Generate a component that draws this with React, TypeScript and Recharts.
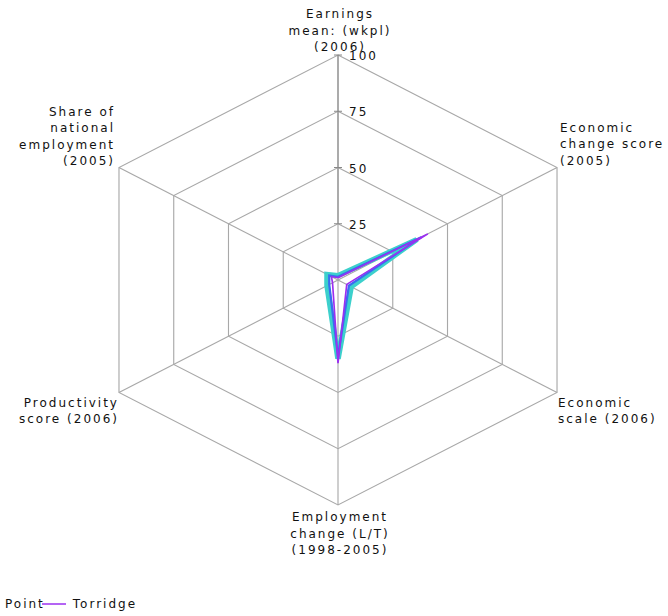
import React from 'react';
import { RadarChart, Radar, PolarGrid, PolarAngleAxis, PolarRadiusAxis, Legend } from 'recharts';

const categories = [
  'Earnings mean: (wkpl) (2006)',
  'Economic change score (2005)',
  'Economic scale (2006)',
  'Employment change (L/T) (1998-2005)',
  'Productivity score (2006)',
  'Share of national employment (2005)',
];
const categoryLines = [
  ['Earnings', 'mean: (wkpl)', '(2006)'],
  ['Economic', 'change score', '(2005)'],
  ['Economic', 'scale (2006)'],
  ['Employment', 'change (L/T)', '(1998-2005)'],
  ['Productivity', 'score (2006)'],
  ['Share of', 'national', 'employment', '(2005)'],
];
const tealValues = [2, 36, 6, 35, 5, 5];
const blueValues = [1.5, 38, 5, 34, 4, 4];
const torridgeValues = [1, 41, 4, 37, 2.5, 3];
const radiusTicks = [25, 50, 75, 100];
const legendPrefix = 'Point';

const data = categories.map((c, i) => ({
  category: c,
  teal: tealValues[i],
  blue: blueValues[i],
  torridge: torridgeValues[i],
}));

const CX = 338;
const CY = 280;
const R = 225;
const S = 1.124;
const FONT = '"DejaVu Sans", Verdana, sans-serif';

const labelLayout = [
  { dx: 2, dy: -37, anchor: 'middle' },
  { dx: 3, dy: -36, anchor: 'start' },
  { dx: 1, dy: 14, anchor: 'start' },
  { dx: 2, dy: 16, anchor: 'middle' },
  { dx: 0, dy: 14, anchor: 'end' },
  { dx: -4, dy: -52, anchor: 'end' },
];

const AngleTick = (props: any) => {
  const { payload } = props;
  const idx = categories.indexOf(payload.value);
  const ang = (payload.coordinate * Math.PI) / 180;
  const vx = CX + Math.cos(ang) * R * S;
  const vy = CY - Math.sin(ang) * R;
  const lay = labelLayout[idx] || { dx: 0, dy: 0, anchor: 'middle' };
  const lines = categoryLines[idx] || [payload.value];
  return (
    <text
      x={vx + lay.dx}
      y={vy + lay.dy}
      textAnchor={lay.anchor}
      fontFamily={FONT}
      fontSize={12}
      letterSpacing={2}
      fill="#111"
    >
      {lines.map((l: string, i: number) => (
        <tspan key={i} x={vx + lay.dx} dy={i === 0 ? 0 : 16.5}>
          {l}
        </tspan>
      ))}
    </text>
  );
};

const RadiusTick = (props: any) => {
  const { x, y, payload } = props;
  return (
    <g>
      <line x1={x - 4} x2={x + 4} y1={y} y2={y} stroke="#888" />
      <text x={x + 11} y={y + 5} fontFamily={FONT} fontSize={12} letterSpacing={2} fill="#111">
        {payload.value}
      </text>
    </g>
  );
};

const LegendContent = (props: any) => {
  const items = (props.payload || []).filter((p: any) => p.type !== 'none');
  return (
    <div style={{ display: 'flex', alignItems: 'center', fontFamily: FONT, fontSize: 12, letterSpacing: 2, color: '#111' }}>
      <span>{legendPrefix}</span>
      {items.map((it: any, i: number) => (
        <span key={i} style={{ display: 'flex', alignItems: 'center' }}>
          <svg width={24} height={10} style={{ marginLeft: -3 }}>
            <line x1={0} x2={24} y1={5} y2={5} stroke={it.color} strokeWidth={1.5} />
          </svg>
          <span style={{ marginLeft: 7 }}>{it.value}</span>
        </span>
      ))}
    </div>
  );
};

export default function App() {
  return (
    <div style={{ position: 'relative', width: 668, height: 616 }}>
      <style>{`
        body { margin: 0; }
        .recharts-polar-grid, .recharts-radar { transform: matrix(${S},0,0,1,${-(S - 1) * CX},0); }
      `}</style>
      <RadarChart width={668} height={616} cx={CX} cy={CY} outerRadius={R} data={data}>
        <PolarGrid gridType="polygon" stroke="#a8a8a8" strokeWidth={1} />
        <PolarAngleAxis dataKey="category" tick={AngleTick} axisLine={false} tickLine={false} />
        <PolarRadiusAxis
          angle={90}
          domain={[0, 100]}
          ticks={radiusTicks as any}
          tick={RadiusTick}
          axisLine={{ stroke: '#888' }}
          tickLine={false}
        />
        <Radar name="Comparator A" dataKey="teal" stroke="#3cd0cc" strokeWidth={5} fill="none" fillOpacity={0} isAnimationActive={false} legendType="none" strokeLinejoin="miter" />
        <Radar name="Comparator B" dataKey="blue" stroke="#3a6cf0" strokeWidth={2} fill="none" fillOpacity={0} isAnimationActive={false} legendType="none" />
        <Radar name="Torridge" dataKey="torridge" stroke="#9b30f0" strokeWidth={1.5} fill="none" fillOpacity={0} isAnimationActive={false} />
        <Legend
          content={LegendContent}
          wrapperStyle={{ position: 'absolute', left: 5, top: 597, width: 300, height: 18 }}
        />
      </RadarChart>
    </div>
  );
}
